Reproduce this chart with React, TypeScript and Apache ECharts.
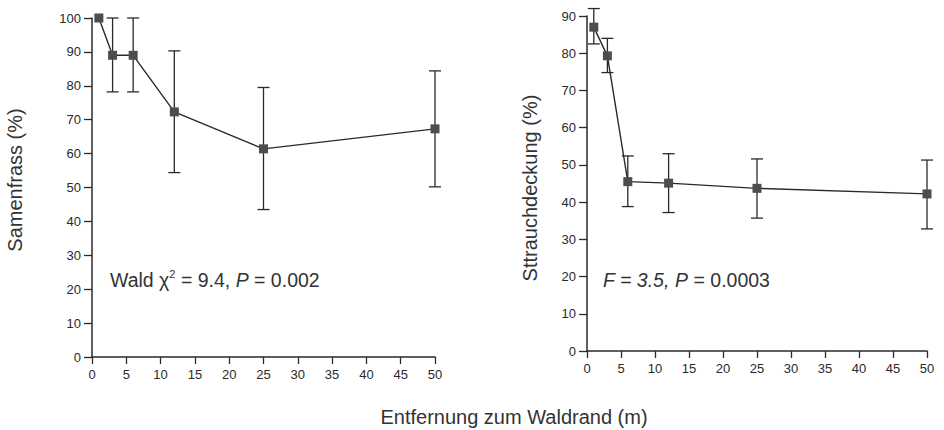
import React, { useEffect, useRef } from "react";
import * as echarts from "echarts";

const distance = [1, 3, 6, 12, 25, 50];
const seedMean = [100, 89, 89, 72.3, 61.4, 67.3];
const seedLow = [100, 78.2, 78.2, 54.4, 43.5, 50.2];
const seedHigh = [100, 100, 100, 90.3, 79.5, 84.4];
const shrubMean = [87, 79.3, 45.5, 45.1, 43.7, 42.2];
const shrubLow = [82.5, 74.8, 38.8, 37.2, 35.7, 32.8];
const shrubHigh = [92, 84, 52.4, 53, 51.6, 51.3];

const FONT = "'Liberation Sans', Arial, Helvetica, sans-serif";
const INK = "#2a2a2a";

function errorRender(params: any, api: any) {
  const x = api.value(0);
  const lo = api.value(1);
  const hi = api.value(2);
  if (lo === hi) return { type: "group", children: [] };
  const pHi = api.coord([x, hi]);
  const pLo = api.coord([x, lo]);
  const hw = 6;
  const style = { stroke: INK, lineWidth: 1.3, fill: null };
  return {
    type: "group",
    children: [
      { type: "line", shape: { x1: pHi[0], y1: pHi[1], x2: pLo[0], y2: pLo[1] }, style },
      { type: "line", shape: { x1: pHi[0] - hw, y1: pHi[1], x2: pHi[0] + hw, y2: pHi[1] }, style },
      { type: "line", shape: { x1: pLo[0] - hw, y1: pLo[1], x2: pLo[0] + hw, y2: pLo[1] }, style },
    ],
  };
}

function xAxis(gridIndex: number) {
  return {
    type: "value",
    gridIndex,
    min: 0,
    max: 50,
    interval: 5,
    axisLine: { show: true, onZero: false, lineStyle: { color: INK, width: 1.5 } },
    axisTick: { show: true, length: 7, lineStyle: { color: INK, width: 1.3 } },
    axisLabel: { color: INK, fontSize: 13, fontFamily: FONT, margin: 11 },
    splitLine: { show: false },
  };
}

function yAxis(gridIndex: number, max: number) {
  return {
    type: "value",
    gridIndex,
    min: 0,
    max,
    interval: 10,
    axisLine: { show: true, onZero: false, lineStyle: { color: INK, width: 1.5 } },
    axisTick: { show: true, length: 8, lineStyle: { color: INK, width: 1.3 } },
    axisLabel: { color: INK, fontSize: 13, fontFamily: FONT, margin: 11 },
    splitLine: { show: false },
  };
}

function lineSeries(idx: number, values: number[]) {
  return {
    type: "line",
    xAxisIndex: idx,
    yAxisIndex: idx,
    data: distance.map((d, i) => [d, values[i]]),
    symbol: "rect",
    symbolSize: 9,
    itemStyle: { color: "#4d4d4d" },
    lineStyle: { color: INK, width: 1.4 },
    z: 3,
  };
}

function errSeries(idx: number, lo: number[], hi: number[]) {
  return {
    type: "custom",
    xAxisIndex: idx,
    yAxisIndex: idx,
    clip: false,
    renderItem: errorRender,
    encode: { x: 0, y: [1, 2] },
    data: distance.map((d, i) => [d, lo[i], hi[i]]),
    z: 2,
  };
}

export default function App() {
  const ref = useRef<HTMLDivElement>(null);
  useEffect(() => {
    if (!ref.current) return;
    const chart = echarts.init(ref.current, null, { renderer: "svg" });
    const textBase = { fontFamily: FONT, fill: "#333", fontSize: 19.5 };
    chart.setOption({
      animation: false,
      backgroundColor: "#ffffff",
      grid: [
        { left: 92, right: 509, top: 18, bottom: 73 },
        { left: 587, right: 17, top: 16, bottom: 79 },
      ],
      xAxis: [xAxis(0), xAxis(1)],
      yAxis: [yAxis(0, 100), yAxis(1, 90)],
      series: [
        errSeries(0, seedLow, seedHigh),
        lineSeries(0, seedMean),
        errSeries(1, shrubLow, shrubHigh),
        lineSeries(1, shrubMean),
      ],
      graphic: [
        {
          type: "text",
          x: 15,
          y: 180,
          rotation: Math.PI / 2,
          style: { ...textBase, text: "Samenfrass (%)", fontSize: 20, align: "center", verticalAlign: "middle" },
        },
        {
          type: "text",
          x: 530,
          y: 188,
          rotation: Math.PI / 2,
          style: { ...textBase, text: "Sttrauchdeckung (%)", fontSize: 20, align: "center", verticalAlign: "middle" },
        },
        {
          type: "text",
          x: 514,
          y: 417,
          style: { ...textBase, text: "Entfernung zum Waldrand (m)", fontSize: 20, align: "center", verticalAlign: "middle" },
        },
        {
          type: "text",
          x: 110,
          y: 280,
          style: {
            ...textBase,
            verticalAlign: "middle",
            text: "Wald χ{sup|2} = 9.4, {it|P} = 0.002",
            rich: {
              sup: { fontSize: 11, fontFamily: FONT, fill: "#333", verticalAlign: "top", padding: [0, 0, 12, 0] },
              it: { fontSize: 19.5, fontFamily: FONT, fill: "#333", fontStyle: "italic" },
            },
          },
        },
        {
          type: "text",
          x: 603,
          y: 280,
          style: {
            ...textBase,
            verticalAlign: "middle",
            text: "{it|F = 3.5,} {it|P} = 0.0003",
            rich: {
              it: { fontSize: 19.5, fontFamily: FONT, fill: "#333", fontStyle: "italic" },
            },
          },
        },
      ],
    });
    return () => chart.dispose();
  }, []);
  return (
    <div
      ref={ref}
      style={{ position: "absolute", left: 0, top: 0, width: 944, height: 430 }}
    />
  );
}
